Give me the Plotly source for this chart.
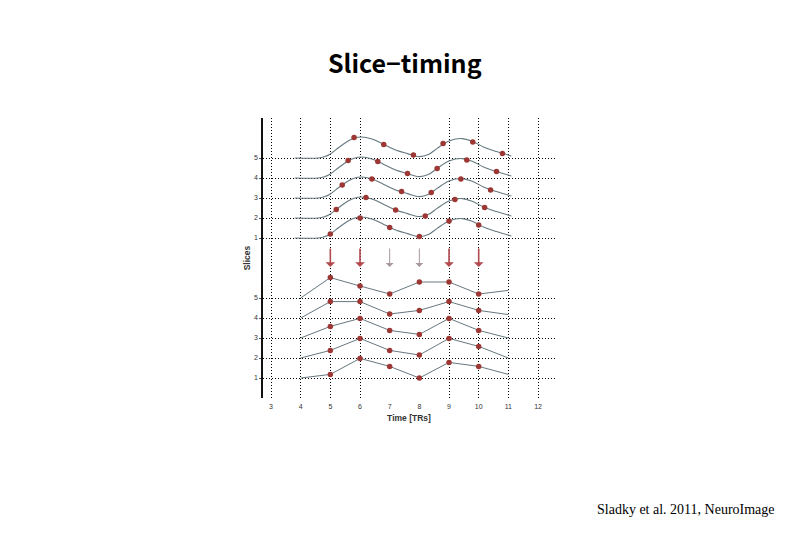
import plotly.graph_objects as go

# ---------------- data ----------------
slices = [1, 2, 3, 4, 5]
tr_times = [5, 6, 7, 8, 9, 10]
slice_delay = [0.0, 0.2, 0.4, 0.6, 0.8]          # acquisition delay of each slice (TR)
panel_gap = 7                                      # vertical offset of the upper panel (slice units)

# continuous response (upper panel)
curve_t = [3.8, 4.6, 4.8, 5.0, 5.2, 5.4, 5.6, 5.8, 6.05, 6.4, 6.8, 7.2, 7.6, 8.0, 8.3, 8.6, 9.0, 9.45, 9.8, 10.2, 10.6, 11.1]
curve_h = [0.0, 0.0, 0.06, 0.2, 0.43, 0.65, 0.85, 0.99, 1.05, 0.95, 0.68, 0.4, 0.22, 0.07, 0.17, 0.48, 0.85, 0.97, 0.82, 0.53, 0.32, 0.1]

# sampled values (upper panel), one list per slice
sampled = {
    1: [0.2, 1.0, 0.53, 0.07, 0.85, 0.65],
    2: [0.43, 1.02, 0.4, 0.1, 0.93, 0.53],
    3: [0.65, 0.95, 0.32, 0.28, 0.95, 0.4],
    4: [0.87, 0.82, 0.23, 0.48, 0.9, 0.32],
    5: [1.02, 0.68, 0.15, 0.72, 0.8, 0.23],
}

# values assigned to TR grid (lower panel)
resampled = {
    1: [0.18, 0.98, 0.58, 0.0, 0.78, 0.58],
    2: [0.38, 0.98, 0.38, 0.15, 0.98, 0.58],
    3: [0.58, 0.98, 0.38, 0.18, 0.98, 0.38],
    4: [0.82, 0.82, 0.2, 0.38, 0.82, 0.38],
    5: [1.02, 0.6, 0.2, 0.8, 0.8, 0.2],
}
line_start_t = 4
line_end_t = 11
line_end_h = {1: 0.18, 2: 0.0, 3: 0.0, 4: 0.17, 5: 0.38}

x_ticks = [3, 4, 5, 6, 7, 8, 9, 10, 11, 12]
x_grid = [3, 4, 5, 6, 9, 10, 11, 12]
arrow_times = [5, 6, 7, 8, 9, 10]
strong_arrows = [5, 6, 9, 10]

# ---------------- style ----------------
LINE = "#66787f"
DOT = "#9c3733"
W, H = 810, 540
OFF = 8                       # page body margin compensation
px0, px1 = 263 - OFF, 555 - OFF
py0, py1 = 118 - OFF, 398 - OFF
PXU = 29.67                   # pixels per TR

fig = go.Figure()

for s in slices:
    top = s + panel_gap
    fig.add_trace(go.Scatter(
        x=curve_t, y=[top + h for h in curve_h], mode="lines",
        line=dict(color=LINE, width=1.1, shape="spline", smoothing=1.0),
        hoverinfo="skip", showlegend=False))
    fig.add_trace(go.Scatter(
        x=[t + slice_delay[s - 1] for t in tr_times],
        y=[top + v for v in sampled[s]], mode="markers",
        marker=dict(color=DOT, size=5.5), hoverinfo="skip", showlegend=False))
    fig.add_trace(go.Scatter(
        x=[line_start_t] + tr_times + [line_end_t],
        y=[s] + [s + v for v in resampled[s]] + [s + line_end_h[s]],
        mode="lines", line=dict(color=LINE, width=1.0),
        hoverinfo="skip", showlegend=False))
    fig.add_trace(go.Scatter(
        x=tr_times, y=[s + v for v in resampled[s]], mode="markers",
        marker=dict(color=DOT, size=5.5), hoverinfo="skip", showlegend=False))

# invisible helper to bind the grid-only axis
fig.add_trace(go.Scatter(x=x_grid[:1], y=slices[:1], xaxis="x2", mode="markers",
                         marker=dict(opacity=0), hoverinfo="skip", showlegend=False))

arrow_top = panel_gap + 0.55
arrow_bot = panel_gap - 0.45
for t in arrow_times:
    strong = t in strong_arrows
    fig.add_annotation(
        x=t, y=arrow_bot, ax=t, ay=arrow_top, xref="x", yref="y", axref="x", ayref="y",
        showarrow=True, arrowhead=1, arrowsize=1.0 if strong else 1.3,
        arrowwidth=1.6 if strong else 1,
        arrowcolor="#b24a4e" if strong else "#a8979d", text="")

xdom = [px0 / W, px1 / W]
ydom = [1 - py1 / H, 1 - py0 / H]
x_left = 3 - (271 - 263) / PXU
xr = [x_left, x_left + (px1 - px0) / PXU]

tickfont = dict(family="Liberation Sans, Arial, sans-serif", size=7, color="#333")
GRID = dict(showgrid=True, griddash="1px,2px", gridcolor="#000", gridwidth=1)

fig.update_layout(
    width=W, height=H, margin=dict(l=0, r=0, t=0, b=0),
    paper_bgcolor="white", plot_bgcolor="white",
    xaxis=dict(domain=xdom, range=xr, tickvals=x_ticks, ticktext=[str(v) for v in x_ticks],
               showgrid=False, zeroline=False, showline=False, ticks="",
               ticklabelstandoff=3, tickfont=tickfont,
               title=dict(text="<b>Time [TRs]</b>", font=dict(family="Liberation Sans, Arial", size=8.5, color="#333"),
                          standoff=6)),
    xaxis2=dict(domain=xdom, range=xr, overlaying="x", tickvals=x_grid, showticklabels=False,
                zeroline=False, showline=False, ticks="", **GRID),
    yaxis=dict(domain=ydom, range=[0, 14],
               tickvals=slices + [s + panel_gap for s in slices],
               ticktext=[str(s) for s in slices] * 2,
               zeroline=False, showline=True, linecolor="#111", linewidth=1.5,
               ticks="outside", ticklen=2, tickcolor="#555", tickfont=tickfont,
               title=dict(text="<b>Slices</b>", font=dict(family="Liberation Sans, Arial", size=8.5, color="#333"),
                          standoff=2), **GRID),
)

fig.add_annotation(text="<b>Slice−timing</b>", x=(405 - OFF) / W, y=1 - (62 - OFF) / H,
                   xref="paper", yref="paper", xanchor="center", yanchor="middle",
                   showarrow=False, font=dict(family="Noto Sans CJK JP, Noto Sans", size=25, color="black"))
fig.add_annotation(text="Sladky et al. 2011, NeuroImage", x=(686 - OFF) / W, y=1 - (509 - OFF) / H,
                   xref="paper", yref="paper", xanchor="center", yanchor="middle",
                   showarrow=False, font=dict(family="Liberation Serif, Times New Roman, serif", size=14, color="black"))

fig.write_html("out.html")
